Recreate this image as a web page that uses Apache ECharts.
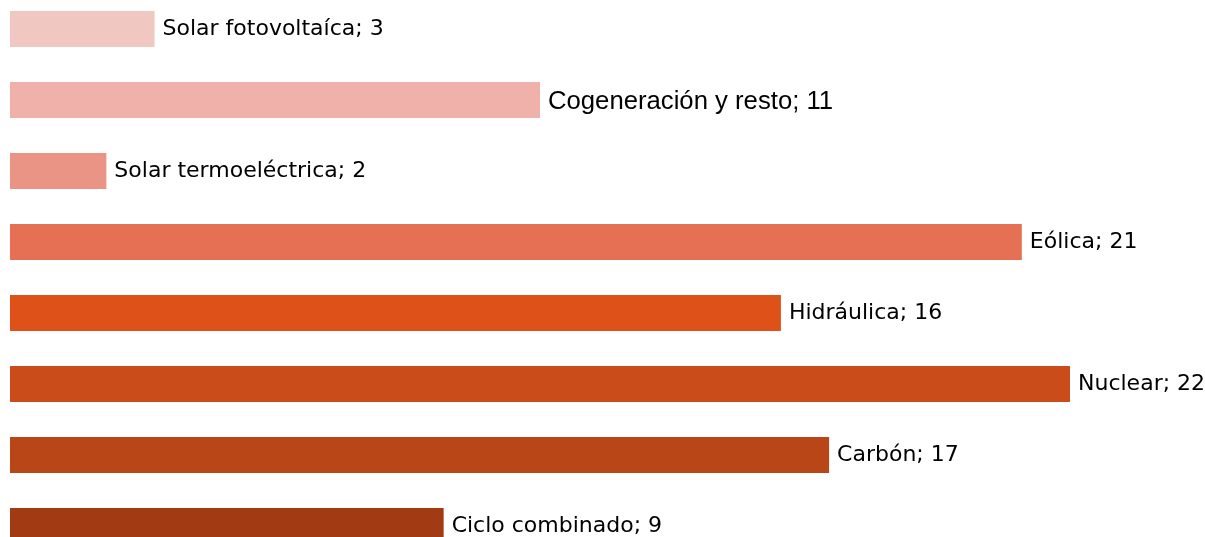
<!DOCTYPE html>
<html>
<head>
<meta charset="utf-8">
<script src="https://cdn.jsdelivr.net/npm/echarts@6/dist/echarts.min.js"></script>
<style>
  html, body { margin: 0; padding: 0; background: #fff; }
  #main { width: 1205px; height: 537px; }
</style>
</head>
<body>
<div id="main"></div>
<script>
// generation mix, top to bottom
const categories = ['Solar fotovoltaíca', 'Cogeneración y resto', 'Solar termoeléctrica', 'Eólica', 'Hidráulica', 'Nuclear', 'Carbón', 'Ciclo combinado'];
const values = [3, 11, 2, 21, 16, 22, 17, 9];
const colors = ['#F0C8C1', '#EFB1A9', '#E99485', '#E67053', '#DE5119', '#CA4C1A', '#B84617', '#A23A14'];

let myChart = echarts.init(document.getElementById('main'));

let option = {
    animation: false,
    // last bar runs off the bottom edge, so the grid goes past the canvas
    grid: { left: 10, width: 1060, top: -6.5, height: 568, outerBoundsMode: 'none', containLabel: false },
    xAxis: { type: 'value', min: 0, max: 22, show: false },
    yAxis: { type: 'category', data: categories, inverse: true, show: false },
    series: [
        {
            type: 'bar',
            barCategoryGap: '49%',
            data: values.map((v, i) => {
                let item = { value: v, itemStyle: { color: colors[i] } };
                if (i === 1) {
                    // this one comes out in a different font in the original
                    item.label = { fontFamily: 'Liberation Sans', fontSize: 25.7, distance: 8, offset: [0, 2] };
                }
                return item;
            }),
            label: {
                show: true,
                position: 'right',
                distance: 8,
                formatter: '{b}; {c}',
                color: '#000',
                fontFamily: 'DejaVu Sans',
                fontSize: 22
            }
        }
    ]
};

myChart.setOption(option);
</script>
</body>
</html>
